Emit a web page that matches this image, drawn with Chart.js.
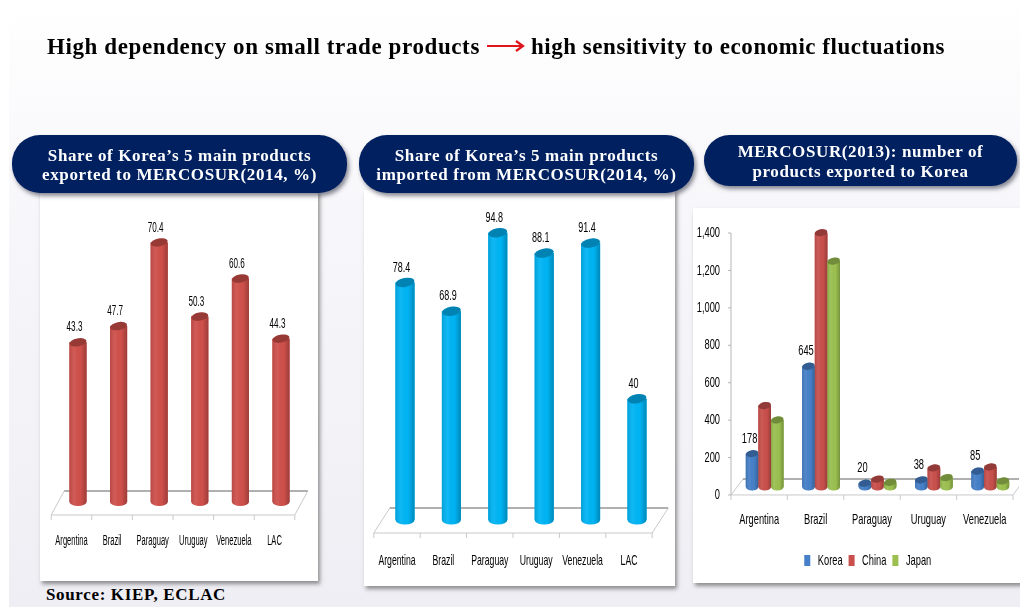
<!DOCTYPE html>
<html>
<head>
<meta charset="utf-8">
<script src="https://cdn.jsdelivr.net/npm/chart.js@4"></script>
<style>
    html, body { margin: 0; padding: 0; }
    body { width: 1020px; height: 607px; overflow: hidden; position: relative; background: #fff; }
    .slide { position: absolute; left: 9px; top: 0; width: 1011px; height: 607px;
             background: linear-gradient(180deg, #ffffff 0%, #f8f8fb 30%, #eeeef4 100%); }
    .title { position: absolute; top: 34px; font: bold 23px "Liberation Serif", serif; color: #000; white-space: nowrap; filter: blur(.3px); }
    .pill { position: absolute; box-sizing: border-box; padding-top: 2px; background: #002060; border-radius: 28px; box-shadow: 2px 3px 4px rgba(40,40,60,.55);
            color: #fff; font: bold 17px/19.5px "Liberation Serif", serif; letter-spacing: 0.62px; text-align: center; white-space: nowrap;
            display: flex; align-items: center; justify-content: center; z-index: 3; }
    .panel { position: absolute; background: #fff; box-shadow: 2px 3px 4px rgba(60,60,60,.55); }
    canvas { position: absolute; z-index: 2; filter: blur(.35px); }
    .source { position: absolute; left: 46px; top: 585px; font: bold 17px "Liberation Serif", serif; letter-spacing: 0.65px; color: #000; z-index: 3; white-space: nowrap; }
</style>
</head>
<body>
<div class="slide"></div>
<div class="title" style="left:47px;letter-spacing:.61px">High dependency on small trade products</div>
<svg style="position:absolute;left:486px;top:38px" width="40" height="16">
    <path d="M1 8H36M30 3L37 8L30 13" fill="none" stroke="#e0141c" stroke-width="2.2"/>
</svg>
<div class="title" style="left:531px;letter-spacing:.53px">high sensitivity to economic fluctuations</div>

<div class="panel" style="left:40px;top:190px;width:278px;height:391px"></div>
<div class="panel" style="left:364px;top:190px;width:311px;height:396px"></div>
<div class="panel" style="left:693px;top:208px;width:340px;height:375px"></div>

<div class="pill" style="left:12px;top:135px;width:335px;height:58px">Share of Korea’s 5 main products<br>exported to MERCOSUR(2014, %)</div>
<div class="pill" style="left:359px;top:135px;width:335px;height:58px">Share of Korea’s 5 main products<br>imported from MERCOSUR(2014, %)</div>
<div class="pill" style="left:704px;top:135px;width:313px;height:51px">MERCOSUR(2013): number of<br>products exported to Korea</div>

<canvas id="exportChart" width="278" height="386" style="left:40px;top:195px"></canvas>
<canvas id="importChart" width="311" height="391" style="left:364px;top:195px"></canvas>
<canvas id="productChart" width="326" height="375" style="left:693px;top:208px"></canvas>

<div class="source">Source: KIEP, ECLAC</div>

<script>
const shareCountries = ['Argentina', 'Brazil', 'Paraguay', 'Uruguay', 'Venezuela', 'LAC'];
const exportShare = [43.3, 47.7, 70.4, 50.3, 60.6, 44.3];
const importShare = [78.4, 68.9, 94.8, 88.1, 91.4, 40];

const productCountries = ['Argentina', 'Brazil', 'Paraguay', 'Uruguay', 'Venezuela'];
const koreaProducts = [178, 645, 20, 38, 85];
const chinaProducts = [435, 1359, 42, 102, 107];
const japanProducts = [358, 1207, 25, 50, 32];

const chartFont = '"Liberation Sans", sans-serif';
const textColor = '#000';

// no condensed font on the box, so squeeze the text on this canvas horizontally
function condenseText(canvas, k) {
    const ctx = canvas.getContext('2d');
    const fill = ctx.fillText.bind(ctx);
    const measure = ctx.measureText.bind(ctx);
    ctx.fillText = function(text, x, y) {
        ctx.save();
        ctx.translate(x, y);
        ctx.scale(k, 1);
        fill(text, 0, 0);
        ctx.restore();
    };
    ctx.measureText = function(text) {
        return { width: measure(text).width * k };
    };
    return canvas;
}

// floor of the fake 3D chart, drawn under the bars
const floorPlugin = {
    id: 'floor',
    afterLayout(chart, args, opts) {
        if (opts.legendShift && chart.legend) {
            chart.legend.left += opts.legendShift;
            chart.legend.right += opts.legendShift;
        }
    },
    beforeDatasetsDraw(chart, args, opts) {
        const ctx = chart.ctx;
        const x = chart.scales.x;
        const y = chart.scales[opts.barScale];
        const zero = y.getPixelForValue(0);
        const frontY = zero + opts.front, backY = zero - opts.back;
        const frontL = x.left - opts.shift, frontR = x.right - opts.shift;
        const backL = x.left + opts.backShift, backR = x.right + opts.backShift;

        ctx.save();
        ctx.strokeStyle = '#c9c9c9';
        ctx.lineWidth = 1;
        ctx.beginPath();
        ctx.moveTo(backL, backY); ctx.lineTo(frontL, frontY); ctx.lineTo(frontR, frontY); ctx.lineTo(backR, backY);
        const step = (x.right - x.left) / x.getLabels().length;
        for (let i = 0; i <= x.getLabels().length; i++) {
            ctx.moveTo(frontL + i * step, frontY);
            ctx.lineTo(frontL + i * step, frontY + 5);
        }
        ctx.stroke();
        ctx.strokeStyle = '#b0b0b0';
        ctx.lineWidth = 2;
        ctx.beginPath();
        ctx.moveTo(backL, backY); ctx.lineTo(backR, backY);
        ctx.stroke();

        // value axis of the third chart sits on the front corner of the floor
        if (opts.axis) {
            const axis = chart.scales[opts.axis];
            ctx.strokeStyle = '#b5b5b5';
            ctx.lineWidth = 1;
            ctx.beginPath();
            ctx.moveTo(frontL, axis.top); ctx.lineTo(frontL, axis.bottom);
            axis.ticks.forEach(t => {
                const py = axis.getPixelForValue(t.value);
                ctx.moveTo(frontL - 3, py); ctx.lineTo(frontL, py);
            });
            ctx.stroke();
        }
        ctx.restore();
    }
};

// turns the library's flat bars into cylinders and writes the value labels
const cylinderPlugin = {
    id: 'cylinder',
    afterDatasetsDraw(chart, args, opts) {
        const ctx = chart.ctx;
        chart.data.datasets.forEach((ds, d) => {
            chart.getDatasetMeta(d).data.forEach((bar, i) => {
                const rx = bar.width / 2, ry = opts.capHeight / 2;
                const left = bar.x - rx, right = bar.x + rx;
                const shade = ctx.createLinearGradient(left, 0, right, 0);
                shade.addColorStop(0, 'rgba(0,0,0,.12)');
                shade.addColorStop(0.3, 'rgba(255,255,255,.06)');
                shade.addColorStop(0.65, 'rgba(0,0,0,0)');
                shade.addColorStop(1, 'rgba(0,0,0,.24)');

                ctx.save();
                ctx.beginPath();
                ctx.moveTo(left, bar.y);
                ctx.lineTo(left, bar.base);
                ctx.ellipse(bar.x, bar.base, rx, ry, 0, Math.PI, 0, true);
                ctx.lineTo(right, bar.y);
                ctx.closePath();
                ctx.fillStyle = ds.backgroundColor;
                ctx.fill();
                ctx.fillStyle = shade;
                ctx.fill();

                ctx.beginPath();
                ctx.ellipse(bar.x, bar.y, rx, ry, -0.18, 0, Math.PI * 2);
                ctx.fillStyle = ds.backgroundColor;
                ctx.fill();
                ctx.fillStyle = 'rgba(0,0,0,.27)';
                ctx.fill();

                if (ds.showValues) {
                    ctx.fillStyle = textColor;
                    ctx.font = opts.font;
                    ctx.textAlign = 'center';
                    ctx.textBaseline = 'middle';
                    ctx.fillText(String(ds.data[i]), bar.x - opts.labelShift, bar.y - opts.labelGap);
                }
                ctx.restore();
            });
        });
    }
};

function shareOptions(maxValue, pad, axisHeight, shift, tickSize, tickPad, floor, capHeight) {
    return {
        responsive: false,
        animation: false,
        layout: { padding: pad },
        scales: {
            x: {
                offset: true,
                grid: { display: false },
                border: { display: false },
                ticks: {
                    autoSkip: false, maxRotation: 0, padding: tickPad, labelOffset: -shift,
                    color: textColor, font: { family: chartFont, size: tickSize }
                },
                afterFit(scale) { scale.height = axisHeight; scale.paddingLeft = 0; scale.paddingRight = 0; }
            },
            y: { display: false, min: 0, max: maxValue }
        },
        plugins: {
            legend: { display: false },
            tooltip: { enabled: false },
            floor: { barScale: 'y', shift: shift, backShift: shift, front: floor[0], back: floor[1] },
            cylinder: { capHeight: capHeight, labelShift: 3.5, labelGap: 15, font: '15px ' + chartFont }
        }
    };
}

new Chart(condenseText(document.getElementById('exportChart'), 0.54), {
    type: 'bar',
    plugins: [floorPlugin, cylinderPlugin],
    data: {
        labels: shareCountries,
        datasets: [{ data: exportShare, backgroundColor: '#cf504b', barPercentage: 0.42, categoryPercentage: 1, showValues: true }]
    },
    options: shareOptions(80, { left: 17.7, right: 16.7, top: 12, bottom: 0 }, 79, 6.5, 14, 23, [13, 11], 8)
});

new Chart(condenseText(document.getElementById('importChart'), 0.6), {
    type: 'bar',
    plugins: [floorPlugin, cylinderPlugin],
    data: {
        labels: shareCountries,
        datasets: [{ data: importShare, backgroundColor: '#00b4f4', barPercentage: 0.41, categoryPercentage: 1, showValues: true }]
    },
    options: shareOptions(100, { left: 17.8, right: 14.8, top: 22, bottom: 0 }, 66, 8, 14.5, 24, [13, 12], 9)
});

new Chart(condenseText(document.getElementById('productChart'), 0.62), {
    type: 'bar',
    plugins: [floorPlugin, cylinderPlugin],
    data: {
        labels: productCountries,
        datasets: [
            { label: 'Korea', data: koreaProducts, backgroundColor: '#4680c8', yAxisID: 'yBar', barPercentage: 1, categoryPercentage: 0.67, showValues: true },
            { label: 'China', data: chinaProducts, backgroundColor: '#c9504c', yAxisID: 'yBar', barPercentage: 1, categoryPercentage: 0.67 },
            { label: 'Japan', data: japanProducts, backgroundColor: '#9bc050', yAxisID: 'yBar', barPercentage: 1, categoryPercentage: 0.67 }
        ]
    },
    options: {
        responsive: false,
        animation: false,
        layout: { padding: { left: 0, right: 0.5, top: 25, bottom: 5 } },
        scales: {
            x: {
                offset: true,
                grid: { display: false },
                border: { display: false },
                ticks: {
                    autoSkip: false, maxRotation: 0, padding: 8, labelOffset: -5.5,
                    color: textColor, font: { family: chartFont, size: 15 }
                },
                afterFit(scale) { scale.height = 52; scale.paddingLeft = 0; scale.paddingRight = 0; }
            },
            y: {
                position: 'left', min: 0, max: 1400,
                grid: { display: false },
                border: { display: false },
                ticks: { stepSize: 200, padding: 8.5, color: textColor, font: { family: chartFont, size: 15 } },
                afterFit(scale) { scale.width = 43.5; scale.paddingTop = 0; scale.paddingBottom = 0; }
            },
            // bars stand in the middle of the floor, a little above the axis zero
            yBar: { display: false, position: 'left', min: -43, max: 1357 }
        },
        plugins: {
            legend: {
                position: 'bottom',
                labels: { boxWidth: 6, boxHeight: 11, padding: 6, color: textColor, font: { family: chartFont, size: 15 } }
            },
            tooltip: { enabled: false },
            floor: { barScale: 'yBar', shift: 5.5, backShift: 6.5, front: 8, back: 8, axis: 'y', legendShift: 12 },
            cylinder: { capHeight: 7, labelShift: 2.5, labelGap: 15, font: '15px ' + chartFont }
        }
    }
});
</script>
</body>
</html>
